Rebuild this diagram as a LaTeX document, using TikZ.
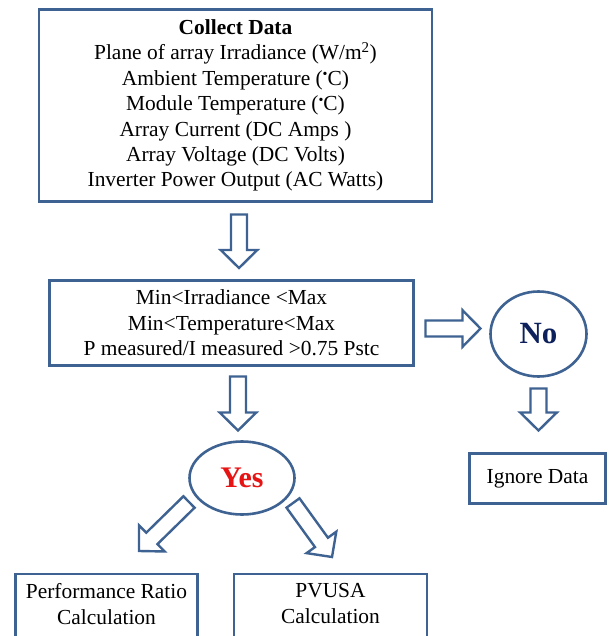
\documentclass[tikz,border=0pt]{standalone}
\usepackage{fontspec}
\setmainfont{Liberation Serif}
\usetikzlibrary{calc,shapes.geometric}
\definecolor{steel}{RGB}{62,98,145}
\definecolor{navy}{RGB}{12,32,92}
\definecolor{yesred}{RGB}{230,20,20}
\tikzset{
  box/.style={draw=steel, line width=2.6bp, align=center, inner xsep=0pt, font=\fontsize{21.5}{25.5}\selectfont},
  oval/.style={draw=steel, line width=2.6bp, ellipse, inner sep=0pt},
  fatarr/.style={draw=steel, line width=2.4bp, fill=white, line join=miter},
}
\newcommand\degdot{\raisebox{.3em}{\fontsize{14}{14}\selectfont\textbullet}}
\newcommand\fatarrow[2]{%
  \coordinate (fah) at ($(#2)!18bp!(#1)$);
  \draw[fatarr] ($(#1)!8bp!90:(#2)$) -- ($(fah)!8bp!90:(#2)$) -- ($(fah)!18.3bp!90:(#2)$)
    -- (#2) -- ($(fah)!18.3bp!-90:(#2)$) -- ($(fah)!8bp!-90:(#2)$) -- ($(#1)!8bp!-90:(#2)$) -- cycle;}
\begin{document}
\begin{tikzpicture}[x=1bp, y=-1bp]
\useasboundingbox (0,0) rectangle (610,636);

\node[box, minimum width=393bp, minimum height=192bp] (collect) at (235.5,105.5)
  {\textbf{Collect Data}\\ Plane of array Irradiance (W/m\textsuperscript{2})\\
   Ambient Temperature (\degdot C)\\ Module Temperature (\degdot C)\\
   Array Current (DC Amps )\\ Array Voltage (DC Volts)\\ Inverter Power Output (AC Watts)};
\node[box, minimum width=364bp, minimum height=85bp] (check) at (231.5,323)
  {Min<Irradiance <Max\\ Min<Temperature<Max\\ P measured/I measured >0.75 Pstc};
\node[oval, minimum width=96bp, minimum height=85bp, text=navy, font=\fontsize{31}{32}\selectfont\bfseries] (no) at (538.5,334) {No};
\node[oval, minimum width=105bp, minimum height=73bp, text=yesred, font=\fontsize{30}{32}\selectfont\bfseries] (yes) at (242,478) {Yes};
\node[box, minimum width=136bp, minimum height=50bp] (ignore) at (537.5,478.5) {Ignore Data};
\node[box, anchor=north, minimum width=182bp, inner ysep=10bp, text depth=20bp] (ratio) at (106.5,572.5)
  {Performance Ratio\\ Calculation};
\node[box, anchor=north, minimum width=193bp, inner ysep=10bp, text depth=20bp] (pvusa) at (330.5,572.5)
  {PVUSA\\ Calculation};

\coordinate (a1t) at (239,214.5); \coordinate (a1h) at (239,268);
\coordinate (a2t) at (425.5,328.5); \coordinate (a2h) at (480.5,328.5);
\coordinate (a3t) at (238,376.5); \coordinate (a3h) at (238,430.5);
\coordinate (a4t) at (538.5,388.5); \coordinate (a4h) at (538.5,430.5);
\coordinate (a5t) at (189,502); \coordinate (a5h) at (139,551);
\coordinate (a6t) at (293,503); \coordinate (a6h) at (332,557);
\fatarrow{a1t}{a1h}
\fatarrow{a2t}{a2h}
\fatarrow{a3t}{a3h}
\fatarrow{a4t}{a4h}
\fatarrow{a5t}{a5h}
\fatarrow{a6t}{a6h}
\end{tikzpicture}
\end{document}
